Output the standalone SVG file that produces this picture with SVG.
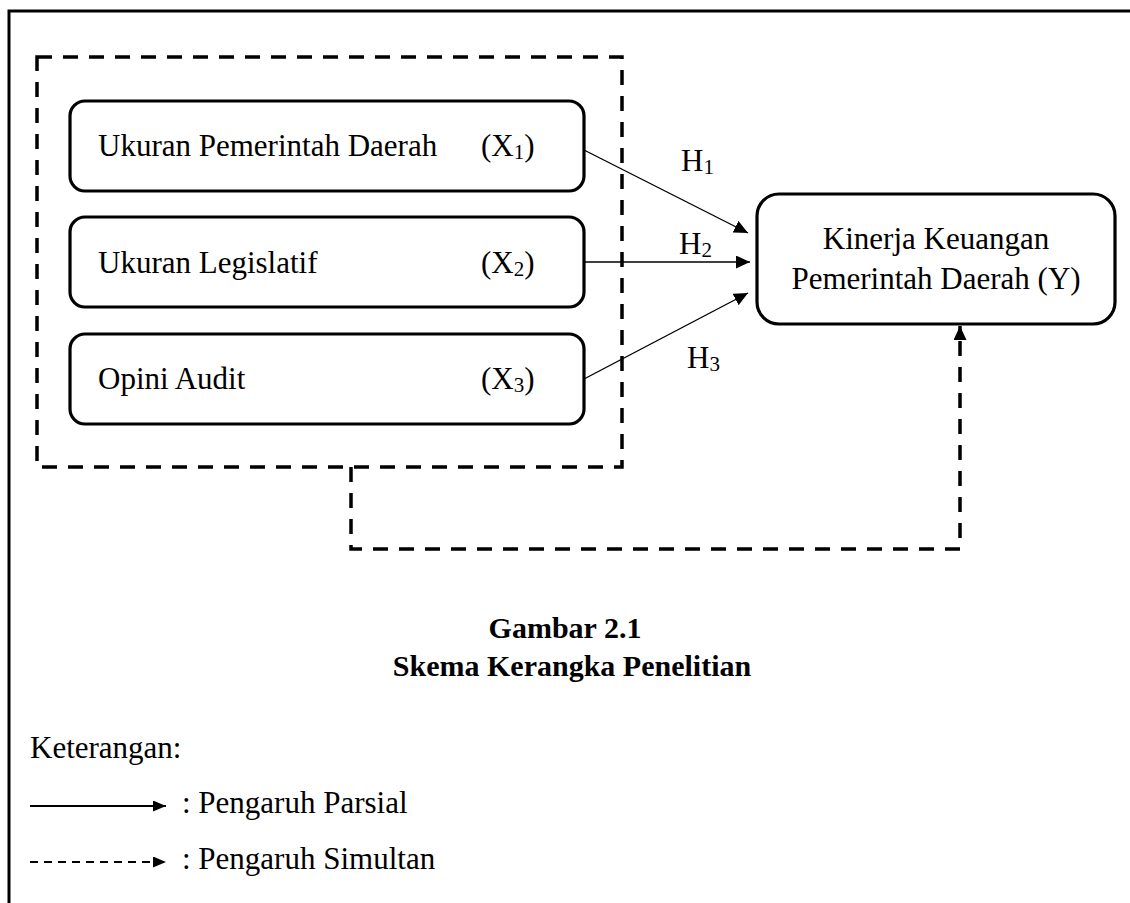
<svg xmlns="http://www.w3.org/2000/svg" width="1130" height="903" viewBox="0 0 1130 903">
<defs>
<style>
.box{fill:#fff;stroke:#000;stroke-width:3.2}
.t{font-family:"Liberation Serif","Times New Roman",serif;font-size:31px;fill:#000}
.sub{font-size:21px}
.b{font-weight:bold;font-size:30px}
.solid{fill:none;stroke:#000;stroke-width:1.4}
.dash{fill:none;stroke:#000;stroke-width:3.5;stroke-dasharray:15 11}
</style>
<marker id="ah" viewBox="0 0 14 13" refX="14" refY="6.5" markerWidth="14" markerHeight="13" markerUnits="userSpaceOnUse" orient="auto"><path d="M0,0 L14,6.5 L0,13 Z" fill="#000"/></marker>
<marker id="ahs" viewBox="0 0 13 11" refX="13" refY="5.5" markerWidth="13" markerHeight="11" markerUnits="userSpaceOnUse" orient="auto"><path d="M0,0 L13,5.5 L0,11 Z" fill="#000"/></marker>
</defs>
<rect width="1130" height="903" fill="#fff"/>
<path d="M9,903 V11 H1130" fill="none" stroke="#000" stroke-width="3"/>
<g id="group-x">
<rect x="37" y="57" width="585" height="410" class="dash"/>
</g>
<g id="x1">
<rect class="box" x="70" y="101" width="514" height="90" rx="15"/>
<text class="t" x="98" y="156">Ukuran Pemerintah Daerah</text>
<text class="t" x="481" y="156">(X<tspan class="sub" dy="3">1</tspan><tspan dy="-3">)</tspan></text>
</g>
<g id="x2">
<rect class="box" x="70" y="217" width="514" height="90" rx="15"/>
<text class="t" x="98" y="273">Ukuran Legislatif</text>
<text class="t" x="481" y="273">(X<tspan class="sub" dy="3">2</tspan><tspan dy="-3">)</tspan></text>
</g>
<g id="x3">
<rect class="box" x="70" y="334" width="514" height="90" rx="15"/>
<text class="t" x="98" y="389">Opini Audit</text>
<text class="t" x="481" y="389">(X<tspan class="sub" dy="3">3</tspan><tspan dy="-3">)</tspan></text>
</g>
<g id="y">
<rect class="box" x="757" y="194" width="358" height="130" rx="22"/>
<text class="t" x="936" y="249" text-anchor="middle">Kinerja Keuangan</text>
<text class="t" x="936" y="289" text-anchor="middle">Pemerintah Daerah (Y)</text>
</g>
<g id="connectors">
<path class="solid" d="M584,150 L748,233" marker-end="url(#ah)"/>
<path class="solid" d="M584,262 L750,262" marker-end="url(#ah)"/>
<path class="solid" d="M584,379 L748,293" marker-end="url(#ah)"/>
<path class="dash" d="M351,467 V549 H960 V326" marker-end="url(#ah)"/>
<text class="t" x="681" y="171">H<tspan class="sub" dy="3">1</tspan></text>
<text class="t" x="679" y="254">H<tspan class="sub" dy="3">2</tspan></text>
<text class="t" x="687" y="368">H<tspan class="sub" dy="3">3</tspan></text>
</g>
<g id="caption">
<text class="t b" x="565" y="638" text-anchor="middle">Gambar 2.1</text>
<text class="t b" x="572" y="676" text-anchor="middle">Skema Kerangka Penelitian</text>
</g>
<g id="legend">
<text class="t" x="30" y="758">Keterangan:</text>
<path d="M30,806 H166" fill="none" stroke="#000" stroke-width="2" marker-end="url(#ahs)"/>
<text class="t" x="182" y="813">: Pengaruh Parsial</text>
<path d="M30,862 H166" fill="none" stroke="#000" stroke-width="2" stroke-dasharray="8 6" marker-end="url(#ahs)"/>
<text class="t" x="182" y="869">: Pengaruh Simultan</text>
</g>
</svg>
